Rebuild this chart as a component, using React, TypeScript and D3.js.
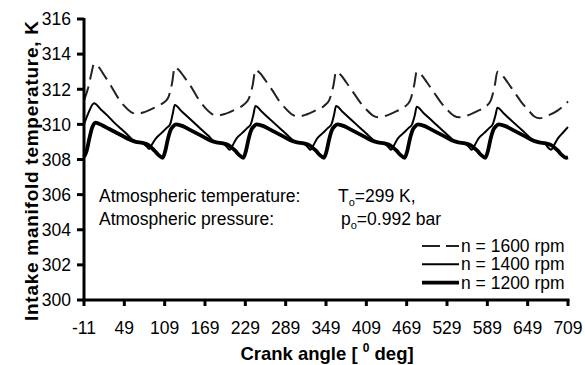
import React from 'react';
import * as d3 from 'd3';

// crank angle [deg] / intake manifold temperature [K]
const ANGLE_1600 = [
  -11, -4, 0, 4, 10, 19, 29, 39, 49, 59, 67, 79, 94, 106, 114,
  120, 124, 130, 139, 149, 159, 169, 179, 187, 199, 214, 226, 234,
  240, 244, 250, 259, 269, 279, 289, 299, 307, 319, 334, 346, 354,
  360, 364, 370, 379, 389, 399, 409, 419, 427, 439, 454, 466, 474,
  480, 484, 490, 499, 509, 519, 529, 539, 547, 559, 574, 586, 594,
  600, 604, 610, 619, 629, 639, 649, 659, 667, 679, 694, 709,
];
const TEMP_1600 = [
  311.35, 312.2, 312.9, 313.45, 313.3, 312.8, 312.2, 311.55, 311.05, 310.7, 310.6, 310.7, 310.95, 311.2, 311.5,
  312.35, 313.25, 313.1, 312.65, 312.1, 311.45, 310.95, 310.6, 310.5, 310.6, 310.85, 311.1, 311.45,
  312.25, 313.1, 312.95, 312.5, 311.95, 311.35, 310.9, 310.55, 310.45, 310.55, 310.8, 311.05, 311.4,
  312.2, 313.0, 312.85, 312.4, 311.85, 311.3, 310.85, 310.5, 310.4, 310.5, 310.75, 311.0, 311.35,
  312.2, 313.0, 312.85, 312.4, 311.85, 311.3, 310.85, 310.5, 310.4, 310.5, 310.75, 311.0, 311.35,
  312.2, 313.0, 312.85, 312.4, 311.85, 311.3, 310.85, 310.45, 310.35, 310.5, 310.8, 311.3,
];

const ANGLE_1400 = [
  -11, -5, 4, 14, 24, 34, 44, 54, 62, 70, 76, 82, 86, 90, 96, 104, 112, 117, 121,
  124, 134, 144, 154, 164, 174, 182, 190, 196, 202, 206, 210, 216, 224, 232, 237, 241,
  244, 254, 264, 274, 284, 294, 302, 310, 316, 322, 326, 330, 336, 344, 352, 357, 361,
  364, 374, 384, 394, 404, 414, 422, 430, 436, 442, 446, 450, 456, 464, 472, 477, 481,
  484, 494, 504, 514, 524, 534, 542, 550, 556, 562, 566, 570, 576, 584, 592, 597, 601,
  604, 614, 624, 634, 644, 654, 662, 670, 676, 680, 684, 688, 694, 702, 709,
];
const TEMP_1400 = [
  310.0, 310.6, 311.2, 310.85, 310.5, 310.1, 309.75, 309.4, 309.1, 309.0, 308.95, 308.75, 308.6, 308.85, 309.2, 309.5, 309.8, 310.0, 310.6,
  311.1, 310.75, 310.4, 310.05, 309.7, 309.35, 309.05, 308.95, 308.9, 308.7, 308.55, 308.8, 309.2, 309.5, 309.8, 310.0, 310.55,
  311.05, 310.7, 310.35, 310.0, 309.65, 309.3, 309.05, 308.95, 308.9, 308.7, 308.55, 308.8, 309.2, 309.5, 309.8, 310.0, 310.55,
  311.05, 310.7, 310.35, 310.0, 309.65, 309.3, 309.05, 308.95, 308.9, 308.7, 308.55, 308.8, 309.2, 309.5, 309.8, 310.0, 310.5,
  311.0, 310.65, 310.3, 309.95, 309.6, 309.25, 309.0, 308.95, 308.9, 308.7, 308.55, 308.8, 309.2, 309.5, 309.8, 310.0, 310.5,
  310.95, 310.6, 310.25, 309.9, 309.55, 309.2, 309.0, 308.95, 308.85, 308.65, 308.55, 308.8, 309.2, 309.55, 309.85,
];

const ANGLE_1200 = [
  -11, -7, -3, 1, 6, 16, 26, 36, 46, 56, 66, 76, 84, 94, 100, 106,
  110, 114, 118, 122, 126, 136, 146, 156, 166, 176, 186, 196, 204, 214, 220, 226,
  230, 234, 238, 242, 246, 256, 266, 276, 286, 296, 306, 316, 324, 334, 340, 346,
  350, 354, 358, 362, 366, 376, 386, 396, 406, 416, 426, 436, 444, 454, 460, 466,
  470, 474, 478, 482, 486, 496, 506, 516, 526, 536, 546, 556, 564, 574, 580, 586,
  590, 594, 598, 602, 606, 616, 626, 636, 646, 656, 666, 676, 684, 694, 700, 706, 709,
];
const TEMP_1200 = [
  308.15, 308.5, 309.2, 309.8, 310.1, 309.95, 309.75, 309.55, 309.35, 309.15, 309.0, 308.95, 308.85, 308.5, 308.25, 308.1,
  308.5, 309.2, 309.7, 309.9, 310.0, 309.9, 309.7, 309.5, 309.3, 309.1, 308.98, 308.92, 308.82, 308.5, 308.25, 308.1,
  308.5, 309.2, 309.7, 309.9, 310.0, 309.9, 309.7, 309.5, 309.3, 309.1, 308.98, 308.92, 308.82, 308.5, 308.25, 308.1,
  308.5, 309.2, 309.7, 309.9, 310.0, 309.9, 309.7, 309.5, 309.3, 309.1, 308.98, 308.92, 308.82, 308.5, 308.25, 308.1,
  308.5, 309.2, 309.7, 309.9, 310.0, 309.9, 309.7, 309.5, 309.3, 309.1, 308.98, 308.92, 308.82, 308.5, 308.25, 308.1,
  308.5, 309.2, 309.7, 309.9, 310.0, 309.9, 309.7, 309.5, 309.3, 309.1, 308.98, 308.92, 308.82, 308.5, 308.25, 308.1, 308.12,
];

const X_TICKS = [-11, 49, 109, 169, 229, 289, 349, 409, 469, 529, 589, 649, 709];
const Y_TICKS = [300, 302, 304, 306, 308, 310, 312, 314, 316];

const SERIES = [
  { label: 'n = 1600 rpm', angles: ANGLE_1600, temps: TEMP_1600, width: 2, dash: '15,7', color: '#222' },
  { label: 'n = 1400 rpm', angles: ANGLE_1400, temps: TEMP_1400, width: 2, dash: null, color: '#000' },
  { label: 'n = 1200 rpm', angles: ANGLE_1200, temps: TEMP_1200, width: 3.8, dash: null, color: '#000' },
];

const W = 585;
const H = 365;
const FONT = "Arial, 'Liberation Sans', sans-serif";
const FS = 17.5;

export default function App() {
  const x = d3.scaleLinear().domain([-11, 709]).range([84, 568]);
  const y = d3.scaleLinear().domain([300, 316]).range([300, 19]);

  const line = d3.line<[number, number]>()
    .x(d => x(d[0]))
    .y(d => y(d[1]))
    .curve(d3.curveMonotoneX);

  return (
    <div style={{ position: 'absolute', left: 0, top: 0 }}>
      <svg width={W} height={H} style={{ display: 'block', background: '#fff' }} fontFamily={FONT}>
        {/* series */}
        {SERIES.map(s => (
          <path
            key={s.label}
            d={line(s.angles.map((a, i) => [a, s.temps[i]] as [number, number])) || ''}
            fill="none"
            stroke={s.color}
            strokeWidth={s.width}
            strokeDasharray={s.dash || undefined}
            strokeLinejoin="round"
          />
        ))}

        {/* y axis */}
        <line x1={x(-11)} x2={x(-11)} y1={y(316) - 1} y2={y(300) + 1.5} stroke="#000" strokeWidth={3} />
        {Y_TICKS.map(t => (
          <g key={t}>
            <line x1={x(-11) - 7} x2={x(-11)} y1={y(t)} y2={y(t)} stroke="#000" strokeWidth={3} />
            <text x={71} y={y(t)} dy="0.36em" textAnchor="end" fontSize={FS}>{t}</text>
          </g>
        ))}

        {/* x axis */}
        <line x1={x(-11) - 1.5} x2={x(709) + 1.5} y1={y(300)} y2={y(300)} stroke="#000" strokeWidth={3} />
        {X_TICKS.map(t => (
          <g key={t}>
            <line x1={x(t)} x2={x(t)} y1={y(300)} y2={y(300) + 6} stroke="#000" strokeWidth={3} />
            <text x={x(t)} y={334} textAnchor="middle" fontSize={FS}>{t}</text>
          </g>
        ))}

        {/* axis titles */}
        <text x={327} y={360} textAnchor="middle" fontSize={18.5} fontWeight="bold">
          Crank angle [ <tspan fontSize={12} dy={-8}>0</tspan><tspan dy={8}> deg]</tspan>
        </text>
        <text
          transform="translate(38, 171) rotate(-90)"
          textAnchor="middle"
          fontSize={19}
          fontWeight="bold"
          textLength={300}
          lengthAdjust="spacing"
        >
          Intake manifold temperature, K
        </text>

        {/* annotation */}
        <text x={99} y={202} fontSize={FS}>Atmospheric temperature:</text>
        <text x={99} y={225} fontSize={FS}>Atmospheric pressure:</text>
        <text x={338} y={202} fontSize={FS}>
          T<tspan fontSize={11} dy={4}>o</tspan><tspan dy={-4}>=299 K,</tspan>
        </text>
        <text x={341} y={225} fontSize={FS}>
          p<tspan fontSize={11} dy={4}>o</tspan><tspan dy={-4}>=0.992 bar</tspan>
        </text>

        {/* legend */}
        {SERIES.map((s, i) => {
          const ly = 246 + i * 18.3;
          return (
            <g key={s.label}>
              <line
                x1={422}
                x2={459}
                y1={ly}
                y2={ly}
                stroke={s.color}
                strokeWidth={s.width}
                strokeDasharray={s.dash ? '18,6' : undefined}
              />
              <text x={461} y={ly + 6} fontSize={FS}>{s.label}</text>
            </g>
          );
        })}
      </svg>
    </div>
  );
}
